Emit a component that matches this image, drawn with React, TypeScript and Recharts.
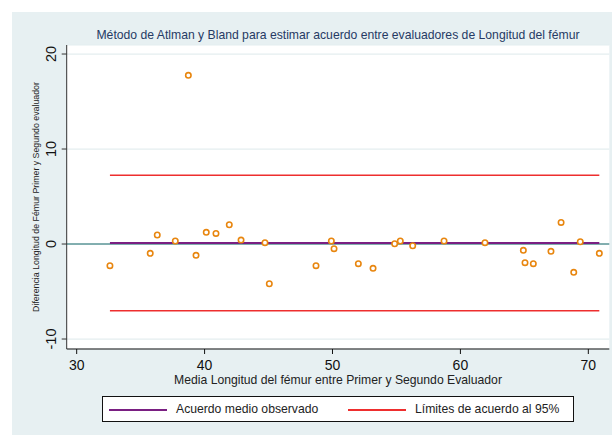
import React from "react";
import {
  ComposedChart,
  Scatter,
  XAxis,
  YAxis,
  CartesianGrid,
  ReferenceLine,
  Legend,
} from "recharts";

// mean femur length of both raters (x) and their difference (y)
const meanLength = [
  32.6, 35.75, 36.3, 37.71, 39.33, 40.13, 40.89, 41.93, 42.85, 44.72,
  45.06, 48.71, 49.91, 50.12, 52.02, 53.17, 54.86, 55.3, 56.27, 58.72,
  61.92, 64.92, 65.05, 65.7, 67.08, 67.87, 68.86, 69.37, 70.86, 38.73,
];
const difference = [
  -2.28, -0.98, 0.95, 0.32, -1.19, 1.23, 1.12, 2.03, 0.42, 0.14,
  -4.18, -2.28, 0.32, -0.49, -2.07, -2.56, 0.03, 0.32, -0.18, 0.32,
  0.14, -0.66, -1.96, -2.07, -0.77, 2.27, -2.98, 0.24, -0.98, 17.76,
];

const meanDiff = 0.12;
const limits = [7.25, -7.03];

const xTicks = [30, 40, 50, 60, 70];
const yTicks = [-10, 0, 10, 20];

const points = meanLength.map((x, i) => ({ x, y: difference[i] }));
const xMin = Math.min(...meanLength);
const xMax = Math.max(...meanLength);

const FONT = "'Liberation Sans', Arial, sans-serif";
const BG = "#e7f0f2";
const PURPLE = "#7a1f82";
const RED = "#ee2e2e";

const HollowDot = (props: any) => (
  <circle
    cx={props.cx}
    cy={props.cy}
    r={2.7}
    fill="#fff"
    stroke="#e8860f"
    strokeWidth={1.6}
  />
);

const YTick = (props: any) => {
  const { x, y, payload } = props;
  return (
    <text
      transform={`translate(${x - 4},${y}) rotate(-90)`}
      textAnchor="middle"
      fontSize={14.5}
      fontFamily={FONT}
      fill="#111"
    >
      {payload.value}
    </text>
  );
};

const YTitle = (props: any) => {
  const { viewBox } = props;
  const cx = viewBox.x + 12.5;
  const cy = viewBox.y + viewBox.height / 2;
  return (
    <text
      transform={`translate(${cx},${cy}) rotate(-90)`}
      textAnchor="middle"
      fontSize={8.8}
      fontFamily={FONT}
      fill="#222"
    >
      Diferencia Longitud de Fémur Primer y Segundo evaluador
    </text>
  );
};

const LegendBox = () => (
  <div
    style={{
      position: "relative",
      width: 472,
      height: 26,
      boxSizing: "border-box",
      border: "1px solid #111",
      background: "#fff",
      fontFamily: FONT,
      fontSize: 12.2,
      color: "#222",
    }}
  >
    <div style={{ position: "absolute", left: 6, top: 12, width: 58, height: 2, background: PURPLE }} />
    <div style={{ position: "absolute", left: 73, top: 5, lineHeight: "14px" }}>
      Acuerdo medio observado
    </div>
    <div style={{ position: "absolute", left: 245, top: 12, width: 58, height: 2, background: RED }} />
    <div style={{ position: "absolute", left: 312, top: 5, lineHeight: "14px" }}>
      Límites de acuerdo al 95%
    </div>
  </div>
);

export default function App() {
  return (
    <div style={{ position: "absolute", left: 0, top: 0, width: 612, height: 435, background: "#fff" }}>
      <div style={{ position: "absolute", left: 12, top: 12, width: 600, height: 423, background: BG }}>
        <div
          style={{
            position: "absolute",
            left: 54.7,
            width: 542.6,
            top: 16,
            textAlign: "center",
            fontFamily: FONT,
            fontSize: 12.2,
            lineHeight: "14px",
            color: "#263a64",
            whiteSpace: "nowrap",
          }}
        >
          Método de Atlman y Bland para estimar acuerdo entre evaluadores de Longitud del fémur
        </div>
        <ComposedChart
          width={600}
          height={423}
          margin={{ top: 33, right: 2.7, bottom: 20, left: 14.7 }}
        >
          <CartesianGrid
            vertical={false}
            horizontal
            fill="#fff"
            stroke="#e4eeef"
            strokeWidth={1.2}
          />
          <XAxis
            type="number"
            dataKey="x"
            domain={[29.22, 71.64]}
            ticks={xTicks}
            allowDataOverflow
            height={40}
            tickSize={5}
            tickMargin={6}
            stroke="#111"
            tick={{ fontSize: 14, fill: "#111", fontFamily: FONT }}
            label={{
              value: "Media Longitud del fémur entre Primer y Segundo Evaluador",
              position: "insideBottom",
              offset: 5,
              fontSize: 12.2,
              fontFamily: FONT,
              fill: "#222",
            }}
          />
          <YAxis
            type="number"
            dataKey="y"
            domain={[-11.05, 20.95]}
            ticks={yTicks}
            allowDataOverflow
            width={40}
            tickSize={5}
            tickMargin={2}
            stroke="#333"
            tick={<YTick />}
            label={<YTitle />}
          />
          <ReferenceLine y={0} stroke="#5e9799" strokeWidth={1.4} />
          <ReferenceLine
            segment={[
              { x: xMin, y: meanDiff },
              { x: xMax, y: meanDiff },
            ]}
            stroke={PURPLE}
            strokeWidth={2}
          />
          {limits.map((v) => (
            <ReferenceLine
              key={v}
              segment={[
                { x: xMin, y: v },
                { x: xMax, y: v },
              ]}
              stroke={RED}
              strokeWidth={1.5}
            />
          ))}
          <Scatter data={points} shape={<HollowDot />} isAnimationActive={false} />
          <Legend
            content={<LegendBox />}
            wrapperStyle={{ position: "absolute", left: 90, top: 384, width: 472, height: 26 }}
          />
        </ComposedChart>
      </div>
    </div>
  );
}
